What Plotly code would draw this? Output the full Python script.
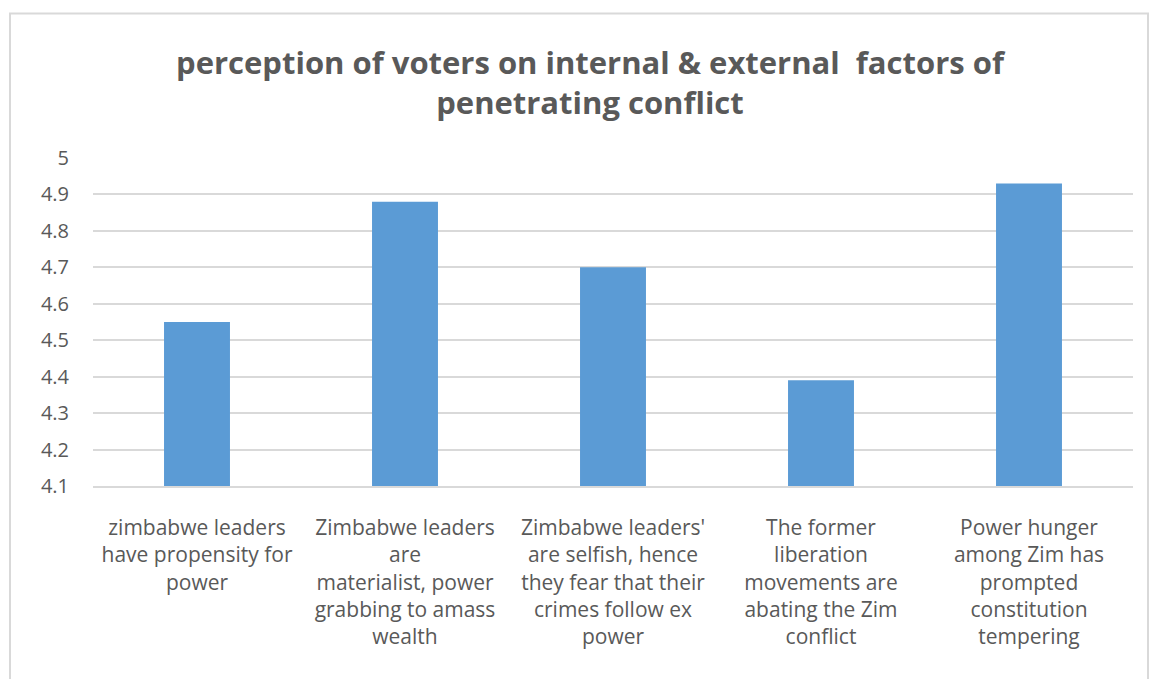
import plotly.graph_objects as go

categories = [
    "zimbabwe leaders<br>have propensity for<br>power",
    "Zimbabwe leaders<br>are<br>materialist, power<br>grabbing to amass<br>wealth",
    "Zimbabwe leaders'<br>are selfish, hence<br>they fear that their<br>crimes follow ex<br>power",
    "The former<br>liberation<br>movements are<br>abating the Zim<br>conflict",
    "Power hunger<br>among Zim has<br>prompted<br>constitution<br>tempering",
]
values = [4.55, 4.88, 4.70, 4.39, 4.93]
y_ticks = [4.1, 4.2, 4.3, 4.4, 4.5, 4.6, 4.7, 4.8, 4.9, 5]
y_tick_labels = ["4.1", "4.2", "4.3", "4.4", "4.5", "4.6", "4.7", "4.8", "4.9", "5"]
title_text = "perception of voters on internal & external  factors of<br>penetrating conflict"

W, H = 1149, 679
ml, mr, mt, mb = 93, 16, 157.5, 193.3
pw, ph = W - ml - mr, H - mt - mb

TEXT = "#595959"
GRID = "#D9D9D9"
FONT = "Open Sans"

fig = go.Figure(go.Bar(
    x=list(range(len(categories))),
    y=[v - 4.1 for v in values],
    base=4.1,
    marker=dict(color="#5B9BD5", line=dict(width=0)),
    hoverinfo="skip",
))

def px_x(p):
    return (p - ml) / pw

def px_y(p):
    return (H - mb - p) / ph

fig.update_layout(
    width=W, height=H,
    margin=dict(l=ml, r=mr, t=mt, b=mb),
    paper_bgcolor="white", plot_bgcolor="white",
    bargap=0.683,
    showlegend=False,
    title=dict(
        text="<b>" + title_text + "</b>",
        x=590 / W, xanchor="center", xref="container",
        y=1 - 74 / H, yanchor="middle", yref="container",
        font=dict(family=FONT, size=31, color=TEXT),
    ),
    xaxis=dict(
        tickmode="array",
        tickvals=list(range(len(categories))),
        ticktext=categories,
        range=[-0.5, len(categories) - 0.5],
        showgrid=False,
        showline=True, linecolor=GRID, linewidth=1.5,
        ticks="",
        tickfont=dict(family=FONT, size=21, color=TEXT),
        ticklabelstandoff=22,
        tickangle=0,
    ),
    yaxis=dict(
        range=[4.1, 5.0],
        tickmode="array",
        tickvals=y_ticks,
        ticktext=y_tick_labels,
        showgrid=True, gridcolor=GRID, gridwidth=1.5,
        zeroline=False,
        showline=False,
        ticks="",
        tickfont=dict(family=FONT, size=20, color=TEXT),
        ticklabelstandoff=23,
    ),
    shapes=[dict(
        type="rect", xref="paper", yref="paper",
        x0=px_x(10), x1=px_x(1148), y0=px_y(13), y1=px_y(700),
        line=dict(color=GRID, width=2), fillcolor="rgba(0,0,0,0)", layer="below",
    )],
)

fig.write_html("out.html")
